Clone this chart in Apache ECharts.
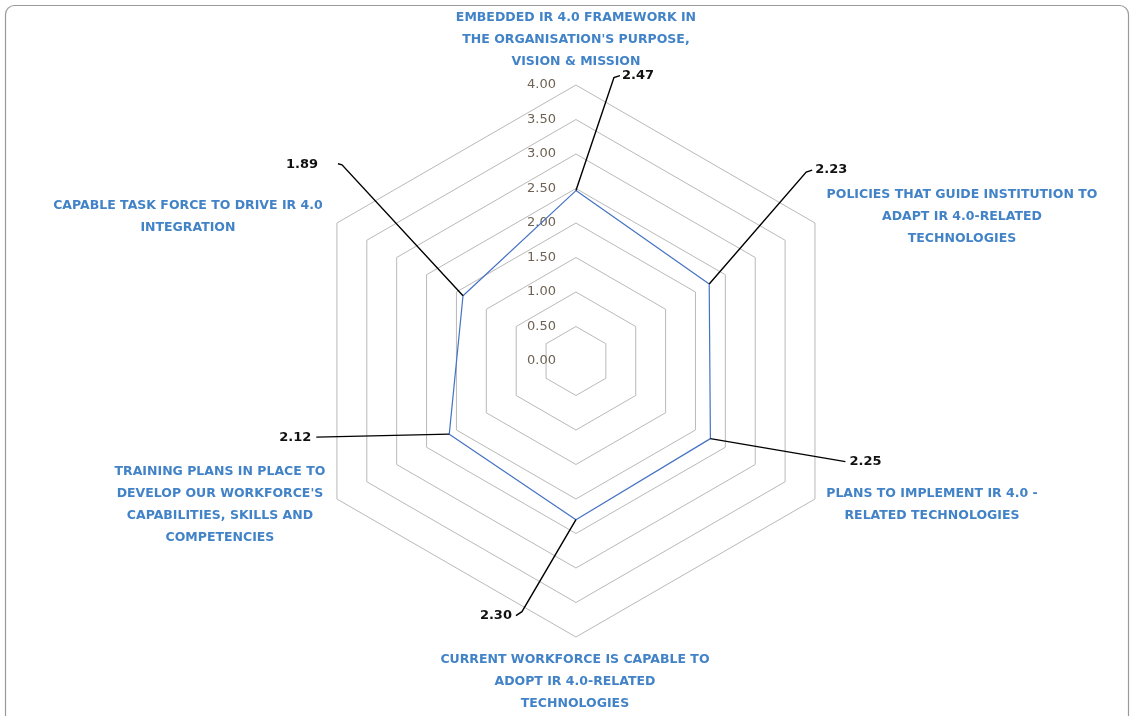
<!DOCTYPE html>
<html><head><meta charset="utf-8">
<script src="https://cdn.jsdelivr.net/npm/echarts@6/dist/echarts.min.js"></script>
<style>html,body{margin:0;padding:0;background:#fff}#c{width:1136px;height:716px}</style>
</head><body><div id="c"></div>
<script>
// Indicators, counter-clockwise from the top (ECharts radar order)
const categories = [
  "EMBEDDED IR 4.0 FRAMEWORK IN\nTHE ORGANISATION'S PURPOSE,\nVISION & MISSION",
  "CAPABLE TASK FORCE TO DRIVE IR 4.0\nINTEGRATION",
  "TRAINING PLANS IN PLACE TO\nDEVELOP OUR WORKFORCE'S\nCAPABILITIES, SKILLS AND\nCOMPETENCIES",
  "CURRENT WORKFORCE IS CAPABLE TO\nADOPT IR 4.0-RELATED\nTECHNOLOGIES",
  "PLANS TO IMPLEMENT IR 4.0 -\nRELATED TECHNOLOGIES",
  "POLICIES THAT GUIDE INSTITUTION TO\nADAPT IR 4.0-RELATED\nTECHNOLOGIES"
];
const values = [2.47, 1.89, 2.12, 2.30, 2.25, 2.23];
const axisMin = 0;
const axisMax = 4;
const axisStep = 0.5;

// layout (pixel offsets) for leader lines / labels, relative to each data point
const leaderLayout = [
  {path: [[38, -113], [44, -115]], label: [46, -115], align: 'left'},
  {path: [[-121, -131], [-125, -132]], label: [-145, -131], align: 'right'},
  {path: [[-133, 3]], label: [-138, 3], align: 'right'},
  {path: [[-54, 92], [-60, 96]], label: [-64, 96], align: 'right'},
  {path: [[135, 23]], label: [139, 23], align: 'left'},
  {path: [[97, -112], [103, -114]], label: [106, -114], align: 'left'}
];
// offsets of the indicator name blocks relative to the outer vertex
const nameOffsets = [[0, -45], [-149, -6], [-117, 6], [-1, 45], [117, 6], [147, -6]];

const CENTER = ['50.7%', '50.42%'];
const RADIUS = 276;
const textFont = '"DejaVu Sans", "Open Sans", sans-serif';

const chart = echarts.init(document.getElementById('c'), null, {renderer: 'canvas'});
chart.setOption({
  backgroundColor: '#fff',
  animation: false,
  graphic: [{
    type: 'rect', z: 0, silent: true,
    shape: {x: 5.5, y: 5.5, width: 1123, height: 760, r: 9},
    style: {fill: null, stroke: '#999999', lineWidth: 1.2}
  }],
  radar: {
    center: CENTER, radius: RADIUS, startAngle: 90, shape: 'polygon', splitNumber: 8,
    indicator: categories.map(c => ({name: c, min: axisMin, max: axisMax})),
    axisName: {show: false},
    axisLine: {show: false}, axisTick: {show: false}, axisLabel: {show: false},
    splitLine: {lineStyle: {color: '#b9b9b9', width: 1}},
    splitArea: {show: false}
  },
  polar: {center: CENTER, radius: RADIUS},
  angleAxis: {
    type: 'category', data: categories, startAngle: 90, clockwise: false, boundaryGap: false,
    axisLine: {show: false}, axisTick: {show: false}, axisLabel: {show: false}, splitLine: {show: false}
  },
  radiusAxis: {
    type: 'value', min: axisMin, max: axisMax, interval: axisStep,
    axisLine: {show: false}, axisTick: {show: false}, splitLine: {show: false},
    axisLabel: {show: true, margin: 20, formatter: v => v.toFixed(2), color: '#6e6254',
      fontFamily: textFont, fontSize: 13}
  },
  series: [
    {
      type: 'radar', symbol: 'none', silent: true, z: 3,
      lineStyle: {color: '#4472C4', width: 1.2},
      data: [{value: values}]
    },
    {
      type: 'custom', coordinateSystem: 'polar', silent: true, z: 4,
      data: values.map((v, i) => [v, i]),
      renderItem: function (params, api) {
        const i = params.dataIndex;
        const p = api.coord([api.value(0), api.value(1)]);
        const L = leaderLayout[i];
        const pts = [p].concat(L.path.map(o => [p[0] + o[0], p[1] + o[1]]));
        return {
          type: 'group',
          children: [
            {type: 'polyline', shape: {points: pts}, style: {stroke: '#000', lineWidth: 1.4, fill: null}},
            {type: 'text', style: {
              x: p[0] + L.label[0], y: p[1] + L.label[1], text: values[i].toFixed(2),
              align: L.align, verticalAlign: 'middle', fill: '#111',
              font: 'bold 13px ' + textFont
            }}
          ]
        };
      }
    },
    {
      type: 'custom', coordinateSystem: 'polar', silent: true, z: 4,
      data: categories.map((c, i) => [axisMax, i]),
      renderItem: function (params, api) {
        const i = params.dataIndex;
        const p = api.coord([api.value(0), api.value(1)]);
        const o = nameOffsets[i];
        return {
          type: 'text', style: {
            x: p[0] + o[0], y: p[1] + o[1], text: categories[i],
            align: 'center', verticalAlign: 'middle', fill: '#4283c8',
            font: 'bold 12.5px ' + textFont, lineHeight: 22
          }
        };
      }
    }
  ]
});
</script></body></html>
